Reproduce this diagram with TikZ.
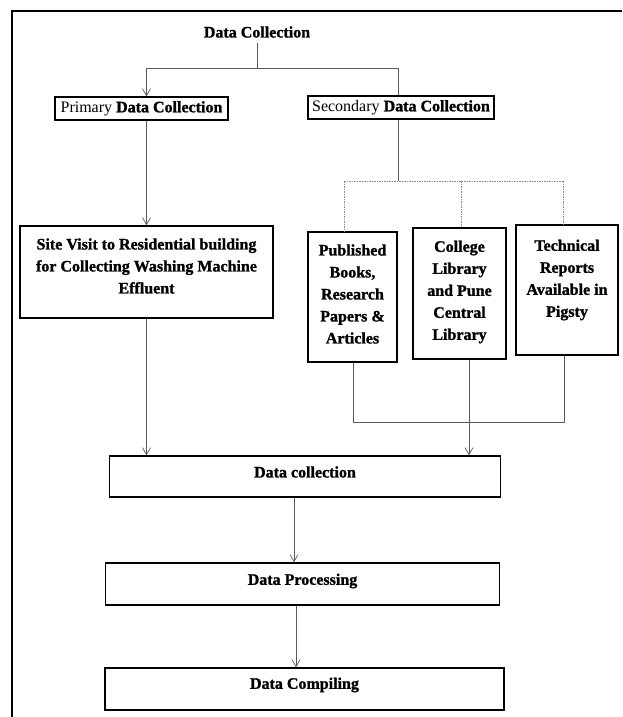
\documentclass[tikz,border=0pt]{standalone}
\usepackage{fontspec}
\setmainfont{Liberation Serif}[BoldFeatures={FakeBold=1.2}]
\usetikzlibrary{arrows.meta}
\begin{document}
\begin{tikzpicture}[x=1pt,y=-1pt,
  font=\fontsize{16}{22}\selectfont\bfseries,
  box/.style={draw=black, line width=1.3pt, inner sep=0pt, rectangle},
  lbl/.style={inner sep=0pt, align=center, text=black},
  conn/.style={draw=black!65, line width=0.7pt},
  arr/.style={conn, -{Straight Barb[length=7pt,width=8pt]}},
  dot/.style={draw=black!45, line width=0.6pt, dash pattern=on 1.5pt off 1pt}]
\useasboundingbox (0,0) rectangle (622,717);
% outer frame (left and top edges visible)
\draw[line width=2.5pt] (12,717) -- (12,11) -- (622,11);

% nodes
\node[lbl] (t0) at (257,32) {Data Collection};
\node[box, minimum width=173pt, minimum height=23pt] (prim) at (141.5,108.5) {{\mdseries Primary} Data Collection};
\node[box, minimum width=186pt, minimum height=23pt] (sec) at (401,107.5) {{\mdseries Secondary} Data Collection};

\node[box, minimum width=253pt, minimum height=92pt] (site) at (146.5,272) {};
\node[lbl] (sitet) at (146.5,266) {Site Visit to Residential building\\for Collecting Washing Machine\\Effluent};

\node[box, minimum width=89pt, minimum height=130pt] (pub) at (352.5,297) {};
\node[lbl] (pubt) at (352.5,294) {Published\\Books,\\Research\\Papers \&\\Articles};

\node[box, minimum width=93pt, minimum height=131pt] (col) at (459.5,293.5) {};
\node[lbl] (colt) at (459.5,292) {College\\Library\\and Pune\\Central\\Library};

\node[box, minimum width=102pt, minimum height=130pt] (tec) at (567,290) {};
\node[lbl] (tect) at (567,280) {Technical\\Reports\\Available in\\Pigsty};

\node[box, minimum width=391pt, minimum height=41pt] (dc) at (305,476.5) {};
\node[lbl] (dct) at (305,472) {Data collection};

\node[box, minimum width=394pt, minimum height=42pt] (proc) at (302.5,584) {};
\node[lbl] (proct) at (302.5,581) {Data Processing};

\node[box, minimum width=399pt, minimum height=42pt] (comp) at (304.5,689) {};
\node[lbl] (compt) at (304.5,685) {Data Compiling};

% junction coordinates
\coordinate (j0) at (257,68);
\coordinate (j1) at (146.5,68);
\coordinate (j2) at (398,68);
\coordinate (j3) at (398,181);
\coordinate (d1) at (344,181);
\coordinate (d2) at (461,181);
\coordinate (d3) at (563,181);
\coordinate (b1) at (353,422);
\coordinate (b2) at (469,422);
\coordinate (b3) at (564,422);

% connectors
\draw[conn, shorten <=5pt] (t0.south) -- (j0);
\draw[conn] (j1) -- (j2);
\draw[arr] (j1) -- (j1 |- prim.north);
\draw[conn] (j2) -- (j2 |- sec.north);
\draw[arr] (prim.south -| j1) -- (site.north -| j1);

\draw[conn] (sec.south -| j3) -- (j3);
\draw[dot] (d1) -- (d3);
\draw[dot] (d1) -- (d1 |- pub.north);
\draw[dot] (d2) -- (d2 |- col.north);
\draw[dot] (d3) -- (d3 |- tec.north);

\draw[conn] (pub.south -| b1) -- (b1) -- (b3) -- (tec.south -| b3);
\draw[arr] (col.south -| b2) -- (dc.north -| b2);
\draw[arr] (site.south -| j1) -- (dc.north -| j1);

\draw[arr] ([xshift=-11pt]dc.south) -- ([xshift=-11pt]dc.south |- proc.north);
\draw[arr] ([xshift=-6.5pt]proc.south) -- ([xshift=-6.5pt]proc.south |- comp.north);
\end{tikzpicture}
\end{document}
